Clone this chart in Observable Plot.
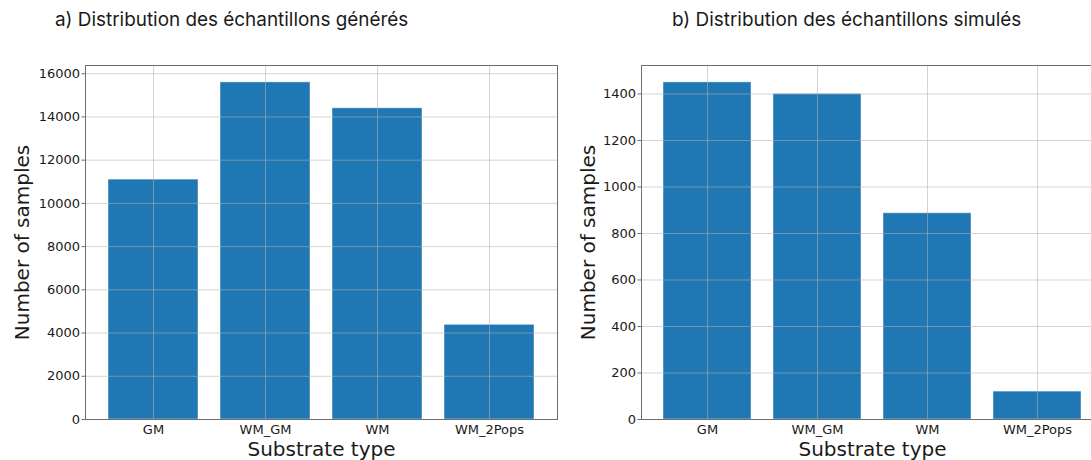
<!DOCTYPE html>
<html>
<head>
<meta charset="utf-8">
<script src="https://cdn.jsdelivr.net/npm/d3@7"></script>
<script src="https://cdn.jsdelivr.net/npm/@observablehq/plot@0.6"></script>
<style>
  html, body { margin: 0; padding: 0; background: #fff; overflow: hidden; }
  #fig { position: relative; width: 1091px; height: 460px; overflow: hidden; background: #fff; }
  .title { position: absolute; top: 8px; font-family: Inter, "Noto Sans", sans-serif; font-size: 18.9px; color: #1a1a1a; white-space: nowrap; }
  .panel { position: absolute; top: 40px; }
</style>
</head>
<body>
<div id="fig"></div>
<script>
// Substrate categories shared by both panels
const substrates = ["GM", "WM_GM", "WM", "WM_2Pops"];

// a) generated samples per substrate
const generatedCounts = [11100, 15600, 14400, 4380];
const generatedTicks = [0, 2000, 4000, 6000, 8000, 10000, 12000, 14000, 16000];

// b) simulated samples per substrate
const simulatedCounts = [1450, 1400, 887, 120];
const simulatedTicks = [0, 200, 400, 600, 800, 1000, 1200, 1400];

const titles = ["a) Distribution des échantillons générés", "b) Distribution des échantillons simulés"];
const xLabel = "Substrate type";
const yLabel = "Number of samples";

const barColor = "#1f77b4";
const gridColor = "#b0b0b0";
const tickFont = "'DejaVu Sans', sans-serif";

function panel(counts, ticks, {width, marginLeft, marginRight, yLabelDx}) {
  const rows = substrates.map((s, i) => ({substrate: s, count: counts[i]}));
  const yMax = d3.max(counts) * 1.05;
  return Plot.plot({
    width,
    height: 420,
    marginTop: 25,
    marginBottom: 41,
    marginLeft,
    marginRight,
    style: {fontFamily: tickFont, fontSize: "13px", color: "#1a1a1a", background: "transparent", overflow: "visible"},
    x: {domain: substrates, paddingInner: 0.2, paddingOuter: 0.2, label: null},
    y: {domain: [0, yMax], label: null},
    marks: [
      Plot.barY(rows, {x: "substrate", y: "count", fill: barColor, stroke: "#ffffff", strokeOpacity: 0.45, strokeWidth: 1}),
      Plot.gridY(ticks, {stroke: gridColor, strokeOpacity: 0.55, strokeWidth: 1}),
      Plot.gridX({stroke: gridColor, strokeOpacity: 0.55, strokeWidth: 1}),
      Plot.frame({stroke: "#6e6e6e", strokeWidth: 1}),
      Plot.axisY(ticks, {tickSize: 3.5, tickPadding: 2, tickFormat: d3.format("d"), stroke: "#6e6e6e", fill: "#1a1a1a", fontSize: 13, label: null}),
      Plot.axisX({tickSize: 0, tickPadding: 5, fill: "#1a1a1a", fontSize: 13, label: null}),
      Plot.text([xLabel], {frameAnchor: "bottom", dy: 30, lineAnchor: "middle", textAnchor: "middle", fontSize: 20, fill: "#1a1a1a", fontFamily: tickFont}),
      Plot.text([yLabel], {frameAnchor: "left", dx: yLabelDx, rotate: -90, lineAnchor: "middle", textAnchor: "middle", fontSize: 20, fill: "#1a1a1a", fontFamily: tickFont})
    ]
  });
}

const fig = document.getElementById("fig");

const a = panel(generatedCounts, generatedTicks, {width: 560, marginLeft: 85, marginRight: 3, yLabelDx: -63});
a.classList.add("panel");
a.style.left = "0px";
fig.appendChild(a);

const b = panel(simulatedCounts, simulatedTicks, {width: 560, marginLeft: 81, marginRight: 17, yLabelDx: -53});
b.classList.add("panel");
b.style.left = "560px";
fig.appendChild(b);

[[titles[0], 55], [titles[1], 672]].forEach(([t, left]) => {
  const d = document.createElement("div");
  d.className = "title";
  d.textContent = t;
  d.style.left = left + "px";
  fig.appendChild(d);
});
</script>
</body>
</html>
